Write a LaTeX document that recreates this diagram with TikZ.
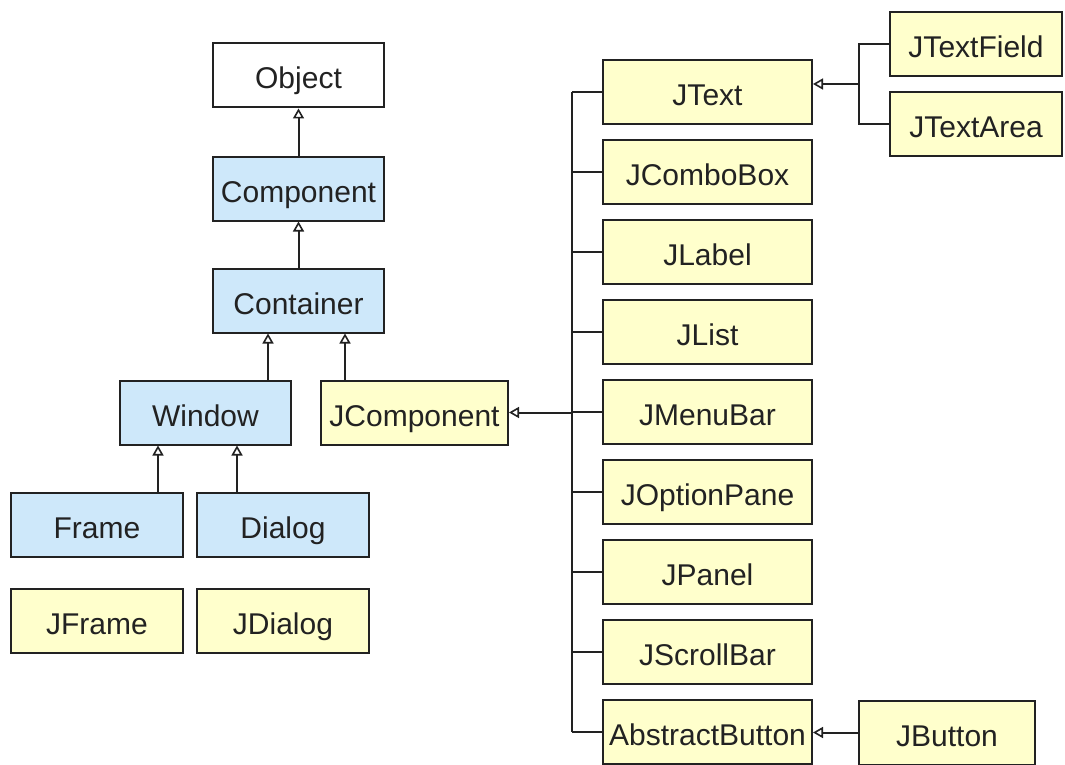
\documentclass[tikz,border=0pt]{standalone}
\usepackage{fontspec}
\setmainfont{Liberation Sans}
\usetikzlibrary{arrows.meta}
\definecolor{awtblue}{RGB}{206,232,250}
\definecolor{swingyel}{RGB}{255,255,204}
\definecolor{ink}{RGB}{34,34,34}
\tikzset{
  cls/.style={draw=ink, line width=2pt, inner sep=0pt, minimum height=64pt,
    text height=30pt, text depth=3pt,
    text=ink, font=\fontsize{30}{34}\selectfont},
  awt/.style={cls, fill=awtblue},
  swing/.style={cls, fill=swingyel},
  plainbox/.style={cls, fill=white},
  link/.style={draw=ink, line width=2pt},
  inh/.style={link, -{Triangle[open, length=10pt, width=11pt, line width=1.6pt]}}
}
\begin{document}
\begin{tikzpicture}[x=1pt,y=-1pt]
\useasboundingbox[fill=white] (0,0) rectangle (1065,765);
% AWT hierarchy
\node[plainbox, minimum width=171pt] (Object) at (298.5,75.5) {Object};
\node[awt, minimum width=171pt] (Component) at (298.5,188.5) {Component};
\node[awt, minimum width=171pt] (Container) at (298.5,300.5) {Container};
\node[awt, minimum width=171pt] (Window) at (205.5,412.5) {Window};
\node[swing, minimum width=187pt] (JComponent) at (414.5,412.5) {JComponent};
\node[awt, minimum width=172pt] (Frame) at (97,524.5) {Frame};
\node[awt, minimum width=172pt] (Dialog) at (283,524.5) {Dialog};
\node[swing, minimum width=172pt] (JFrame) at (97,620.5) {JFrame};
\node[swing, minimum width=172pt] (JDialog) at (283,620.5) {JDialog};
% Swing column
\node[swing, minimum width=209pt] (JText) at (707.5,92) {JText};
\node[swing, minimum width=209pt] (JComboBox) at (707.5,172) {JComboBox};
\node[swing, minimum width=209pt] (JLabel) at (707.5,252) {JLabel};
\node[swing, minimum width=209pt] (JList) at (707.5,332) {JList};
\node[swing, minimum width=209pt] (JMenuBar) at (707.5,412) {JMenuBar};
\node[swing, minimum width=209pt] (JOptionPane) at (707.5,492) {JOptionPane};
\node[swing, minimum width=209pt] (JPanel) at (707.5,572) {JPanel};
\node[swing, minimum width=209pt] (JScrollBar) at (707.5,652) {JScrollBar};
\node[swing, minimum width=209pt] (AbstractButton) at (707.5,732) {AbstractButton};
\node[swing, minimum width=172pt] (JTextField) at (976,44) {JTextField};
\node[swing, minimum width=172pt] (JTextArea) at (976,124) {JTextArea};
\node[swing, minimum width=176pt] (JButton) at (947,732.5) {JButton};
% inheritance arrows (AWT)
\draw[inh] (Component.north) -- (Object.south);
\draw[inh] (Container.north) -- (Component.south);
\draw[inh] ([xshift=62.5pt]Window.north) -- ([xshift=-30.5pt]Container.south);
\draw[inh] ([xshift=-69.5pt]JComponent.north) -- ([xshift=46.5pt]Container.south);
\draw[inh] ([xshift=61pt]Frame.north) -- ([xshift=-47.5pt]Window.south);
\draw[inh] ([xshift=-46pt]Dialog.north) -- ([xshift=31.5pt]Window.south);
% Swing bus
\coordinate (lb) at (572,412.5);
\draw[link] (JText.west -| lb) -- (AbstractButton.west -| lb);
\foreach \n in {JText,JComboBox,JLabel,JList,JMenuBar,JOptionPane,JPanel,JScrollBar,AbstractButton}
  \draw[link] (\n.west) -- (\n.west -| lb);
\draw[inh] (lb) -- (JComponent.east);
% JText children
\coordinate (tb) at (859,84);
\draw[link] (JTextField.west) -| (tb);
\draw[link] (JTextArea.west) -| (tb);
\draw[inh] (tb) -- (JText.east |- tb);
% JButton
\draw[inh] (JButton.west) -- (AbstractButton.east |- JButton.west);
\end{tikzpicture}
\end{document}
